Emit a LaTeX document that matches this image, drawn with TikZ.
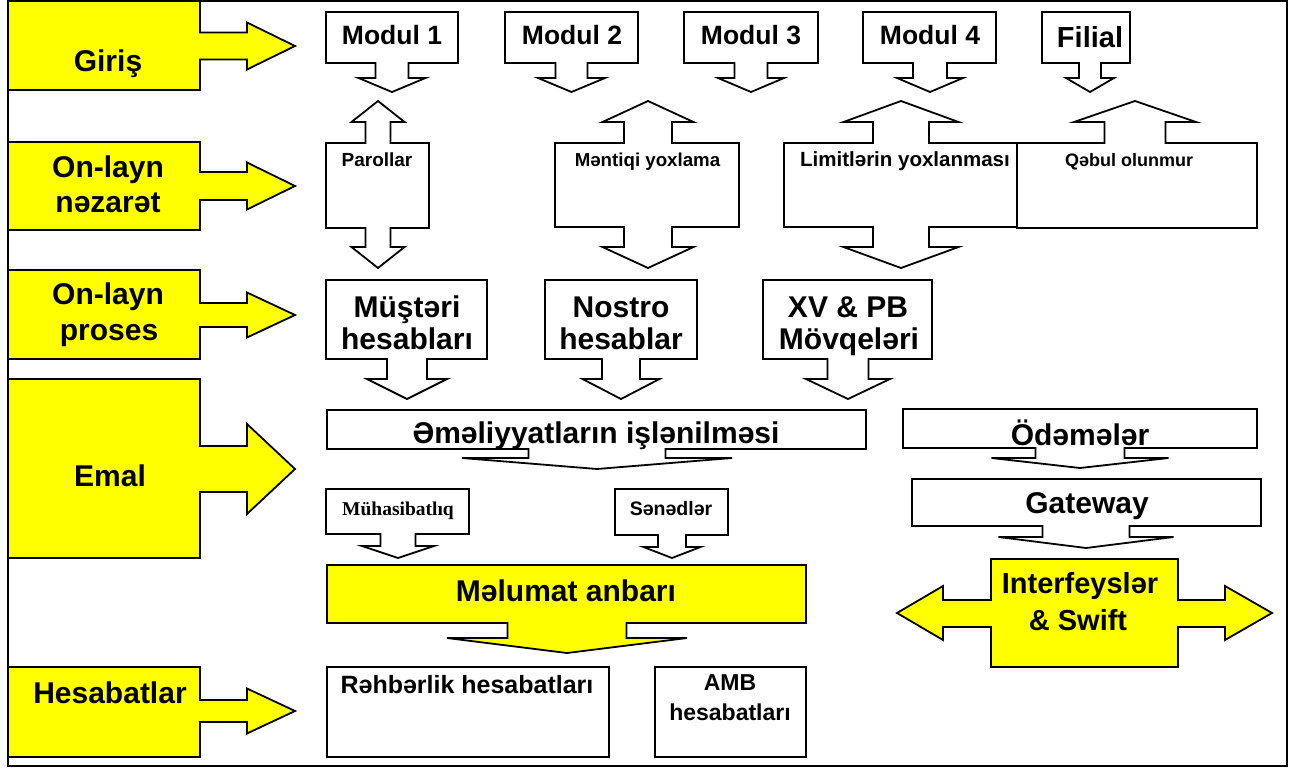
\documentclass[tikz,border=0pt]{standalone}
\usepackage{fontspec}
\setmainfont{Liberation Sans}
\newfontfamily\serifface{Liberation Serif}
\definecolor{yel}{HTML}{FFFF00}

% Box with a downward arrow: x1 y1 x2 y2 | arrow axis cx, shaft half width, head half width, head base y, tip y
\newcommand{\DnCall}[9]{%
  \draw[cshape] (#1,#2) -- (#3,#2) -- (#3,#4) -- ({#5+#6},#4) -- ({#5+#6},#8)
    -- ({#5+#7},#8) -- (#5,#9) -- ({#5-#7},#8) -- ({#5-#6},#8) -- ({#5-#6},#4)
    -- (#1,#4) -- cycle;}
% Box with arrows up and down: x1 y1 x2 y2 | axis cx, shaft half width, head half width
\newcommand{\UpDnCall}[7]{%
  \draw[cshape] (#1,#2) -- ({#5-#6},#2) -- ({#5-#6},122) -- ({#5-#7},122) -- (#5,101)
    -- ({#5+#7},122) -- ({#5+#6},122) -- ({#5+#6},#2) -- (#3,#2) -- (#3,#4)
    -- ({#5+#6},#4) -- ({#5+#6},247) -- ({#5+#7},247) -- (#5,268) -- ({#5-#7},247)
    -- ({#5-#6},247) -- ({#5-#6},#4) -- (#1,#4) -- cycle;}
% Box with an upward arrow only
\newcommand{\UpCall}[7]{%
  \draw[cshape] (#1,#2) -- ({#5-#6},#2) -- ({#5-#6},122) -- ({#5-#7},122) -- (#5,101)
    -- ({#5+#7},122) -- ({#5+#6},122) -- ({#5+#6},#2) -- (#3,#2) -- (#3,#4)
    -- (#1,#4) -- cycle;}
% Yellow stage label with a right arrow: y1 y2 | axis cy, shaft half height, head half height
\newcommand{\RtCall}[5]{%
  \draw[cshape,fill=yel] (8,#1) -- (200,#1) -- (200,{#3-#4}) -- (247,{#3-#4})
    -- (247,{#3-#5}) -- (295,#3) -- (247,{#3+#5}) -- (247,{#3+#4}) -- (200,{#3+#4})
    -- (200,#2) -- (8,#2) -- cycle;}

\begin{document}
\begin{tikzpicture}[x=1pt,y=-1pt,
  cshape/.style={draw=black,line width=1.8pt,line join=miter,fill=white},
  txt/.style={inner sep=0pt,anchor=base,text=black},
  big/.style={txt,font=\bfseries\fontsize{30}{36}\selectfont},
  mod/.style={txt,font=\bfseries\fontsize{26.5}{32}\selectfont},
  small/.style={txt,font=\bfseries\fontsize{18.7}{22}\selectfont},
]
\useasboundingbox (0,0) rectangle (1291,768);
\fill[white] (0,0) rectangle (1291,768);

% outer frame
\draw[line width=2.5pt] (8,1) rectangle (1287,766);

% stage labels on the left
\RtCall{1}{90}{46}{13.5}{23.5}
\RtCall{142}{230}{186}{14}{23.5}
\RtCall{270}{359}{315}{12}{22.5}
\RtCall{379}{558}{469}{23}{45}
\RtCall{667}{757}{711}{11}{22.5}
\node[big] (giris) at (108,72) {Giriş};
\node[big] (nez1) at (108,177) {On-layn};
\node[big] (nez2) at (108,212) {nəzarət};
\node[big] (pro1) at (108,304) {On-layn};
\node[big] (pro2) at (109,340) {proses};
\node[big] (emal) at (110,486) {Emal};
\node[big] (hesab) at (110,703) {Hesabatlar};

% input modules
\DnCall{326}{12}{458}{63}{392}{16.5}{33.5}{78}{92}
\DnCall{505}{12}{638}{63}{571.5}{16}{33.5}{78}{92}
\DnCall{684}{12}{818}{63}{751}{16.5}{33}{78}{92}
\DnCall{863}{12}{996}{63}{930}{17}{33}{78}{92}
\DnCall{1042}{12}{1130}{63}{1090}{11}{24}{78}{92}
\node[mod] (m1) at (392,45) {Modul 1};
\node[mod] (m2) at (572,45) {Modul 2};
\node[mod] (m3) at (751,45) {Modul 3};
\node[mod] (m4) at (930,45) {Modul 4};
\node[txt,font=\bfseries\fontsize{29}{34}\selectfont] (filial) at (1090,48) {Filial};

% on-line checks
\UpDnCall{326}{143}{429}{228}{378}{12.5}{26.5}
\UpDnCall{555}{143}{739}{227}{648}{24}{45.5}
\UpDnCall{784}{143}{1017}{227}{901}{28}{57.5}
\UpCall{1017}{143}{1257}{228}{1135}{30.5}{61}
\node[small,font=\bfseries\fontsize{19}{22}\selectfont] (parol) at (377,166) {Parollar};
\node[small] (mentiq) at (647.5,166) {Məntiqi yoxlama};
\node[small,font=\bfseries\fontsize{20.5}{24}\selectfont] (limit) at (905,166) {Limitlərin yoxlanması};
\node[small,font=\bfseries\fontsize{18}{22}\selectfont] (qebul) at (1129,166) {Qəbul olunmur};

% on-line processing
\DnCall{326}{280}{487}{359}{407}{20}{40}{379}{399}
\DnCall{545}{280}{697}{359}{621}{19}{38.5}{379}{399}
\DnCall{763}{280}{932}{359}{848}{20.5}{42}{379}{399}
\node[big] (must1) at (407,317) {Müştəri};
\node[big] (must2) at (407,349) {hesabları};
\node[big] (nos1) at (621,317) {Nostro};
\node[big] (nos2) at (621,349) {hesablar};
\node[big] (xv1) at (848,317) {XV \& PB};
\node[big] (xv2) at (849,349) {Mövqeləri};

% processing
\DnCall{327}{410}{866}{449}{597}{68.5}{135}{458}{469}
\DnCall{903}{409}{1257}{448}{1080}{44.5}{88.5}{458}{468}
\DnCall{912}{479}{1261}{526}{1086}{43.5}{87.5}{537}{548}
\node[big] (emel) at (596,443) {Əməliyyatların işlənilməsi};
\node[big] (odem) at (1080,445) {Ödəmələr};
\node[big] (gate) at (1087,513) {Gateway};

% interfaces, arrows both ways
\draw[cshape,fill=yel] (991,559) -- (1178,559) -- (1178,600) -- (1225,600) -- (1225,586)
  -- (1272,613) -- (1225,640) -- (1225,627) -- (1178,627) -- (1178,667) -- (991,667)
  -- (991,627) -- (943,627) -- (943,640) -- (897,613) -- (943,586) -- (943,600)
  -- (991,600) -- cycle;
\node[txt,font=\bfseries\fontsize{29}{34}\selectfont] (intf1) at (1080,593) {Interfeyslər};
\node[txt,font=\bfseries\fontsize{29}{34}\selectfont] (intf2) at (1078,630) {\& Swift};

% accounting and documents
\DnCall{326}{489}{469}{534}{398}{17.5}{36}{546}{558}
\DnCall{615}{489}{728}{535}{672}{14}{28.5}{547}{558}
\node[txt,font=\serifface\bfseries\fontsize{19.5}{23}\selectfont] (muh) at (398,515) {Mühasibatlıq};
\node[txt,font=\bfseries\fontsize{19.5}{23}\selectfont] (sened) at (671,515) {Sənədlər};

% data warehouse
\begin{scope}[cshape/.append style={fill=yel}]
\DnCall{327}{565}{806}{623}{567}{59.5}{120}{638}{653}
\end{scope}
\node[big] (melum) at (566,601) {Məlumat anbarı};

% reports
\draw[cshape] (327,667) rectangle (609,757);
\draw[cshape] (655,667) rectangle (806,757);
\node[txt,font=\bfseries\fontsize{25}{30}\selectfont] (rehb) at (467,693) {Rəhbərlik hesabatları};
\node[txt,font=\bfseries\fontsize{23}{28}\selectfont] (amb1) at (730,690) {AMB};
\node[txt,font=\bfseries\fontsize{23}{28}\selectfont] (amb2) at (730,720) {hesabatları};
\end{tikzpicture}
\end{document}
